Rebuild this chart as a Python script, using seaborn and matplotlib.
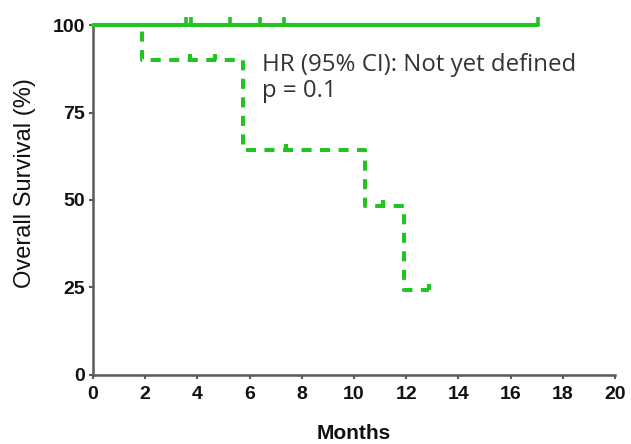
import numpy as np
import pandas as pd
import matplotlib
matplotlib.use("Agg")
import matplotlib.pyplot as plt
from matplotlib.path import Path
import seaborn as sns

# ---- data ----
solid_times = [0, 17.05]
solid_surv = [100, 100]
solid_censor_t = [3.55, 3.75, 5.25, 6.4, 7.3, 17.05]

dash_times = [0, 1.88, 5.75, 10.42, 11.9, 12.87]
dash_surv = [100, 90, 64.3, 48.2, 24.1, 24.1]
dash_censor_t = [3.72, 4.67, 7.4, 11.1, 12.87]
dash_censor_s = [90, 90, 64.3, 48.2, 24.1]

x_ticks = list(range(0, 21, 2))
y_ticks = [0, 25, 50, 75, 100]
annot_lines = ["HR (95% CI): Not yet defined", "p = 0.1"]

GREEN = "#21c421"
AXC = "#5a5a5a"

sns.set_style("ticks")
plt.rcParams["font.family"] = ["Liberation Sans", "DejaVu Sans"]

W, H = 631, 444
fig = plt.figure(figsize=(W/100, H/100), dpi=100)
L, R, T, B = 93, 615, 25.5, 374.5
ax = fig.add_axes([L/W, 1-B/H, (R-L)/W, (B-T)/H])

df_s = pd.DataFrame({"t": solid_times, "s": solid_surv})
df_d = pd.DataFrame({"t": dash_times, "s": dash_surv})

sns.lineplot(data=df_d, x="t", y="s", ax=ax, color=GREEN, lw=2.9,
             drawstyle="steps-post", estimator=None, sort=False, clip_on=False,
             zorder=2)
ax.lines[-1].set_dashes((2.5, 2.1))
sns.lineplot(data=df_s, x="t", y="s", ax=ax, color=GREEN, lw=2.9,
             drawstyle="steps-post", estimator=None, sort=False, clip_on=False,
             zorder=3)

tick_marker = Path([(0, 0), (0, 1)])
ax.plot(solid_censor_t, [100]*len(solid_censor_t), linestyle="none",
        marker=tick_marker, markersize=11, mew=2.6, color=GREEN, clip_on=False,
        zorder=3)
ax.plot(dash_censor_t, dash_censor_s, linestyle="none",
        marker=tick_marker, markersize=9, mew=3.0, color=GREEN, clip_on=False,
        zorder=2)

ax.set_xlim(0, 20)
ax.set_ylim(0, 100)
ax.set_xticks(x_ticks)
ax.set_yticks(y_ticks)
ax.tick_params(axis="both", length=3, width=1.5, color=AXC, labelsize=14,
               labelcolor="#111111")
ax.tick_params(axis="x", pad=5)
ax.tick_params(axis="y", pad=3)
for lab in ax.get_xticklabels() + ax.get_yticklabels():
    lab.set_fontweight("bold")
for sp in ["top", "right"]:
    ax.spines[sp].set_visible(False)
for sp in ["left", "bottom"]:
    ax.spines[sp].set_color(AXC)
    ax.spines[sp].set_linewidth(1.8)

ax.set_xlabel("Months", fontsize=15, fontweight="bold", color="#111111")
ax.xaxis.set_label_coords(0.5, (B-424)/(B-T))
ax.set_ylabel("Overall Survival (%)", fontsize=17, color="#111111")
ax.yaxis.set_label_coords((36-L)/(R-L), (B-183)/(B-T))

ax.text(6.47, 87.0, annot_lines[0], fontsize=17.3, family=["Open Sans", "DejaVu Sans"],
        va="baseline", ha="left", color="#333333")
ax.text(6.47, 79.6, annot_lines[1], fontsize=17.3, family=["Open Sans", "DejaVu Sans"],
        va="baseline", ha="left", color="#333333")

fig.savefig("out.png", dpi=100)
